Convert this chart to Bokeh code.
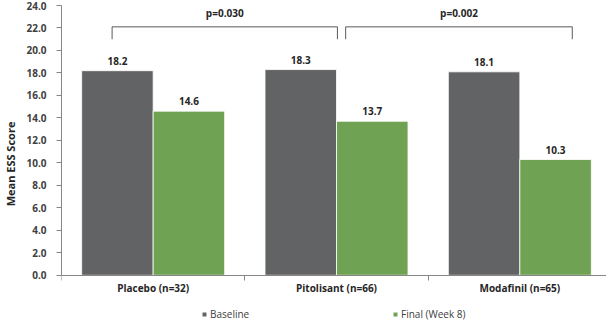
from bokeh.plotting import figure
from bokeh.models import (ColumnDataSource, Range1d, FixedTicker, Legend, LegendItem,
                          NumeralTickFormatter)
from bokeh.embed import file_html
from bokeh.resources import INLINE
from bokeh.core.properties import value

categories = ["Placebo (n=32)", "Pitolisant (n=66)", "Modafinil (n=65)"]
baseline = [18.2, 18.3, 18.1]
final = [14.6, 13.7, 10.3]
series_names = ["Baseline", "Final (Week 8)"]
pvalues = ["p=0.030", "p=0.002"]
y_ticks = [0, 2, 4, 6, 8, 10, 12, 14, 16, 18, 20, 22, 24]

GRAY = "#626365"
GREEN = "#70a254"
TXT = "#404040"
FONT = "Open Sans"
BW = 0.39

centers = [i + 0.5 for i in range(len(categories))]

# frame extends to the bottom of the window so the legend can sit inside it
p = figure(frame_width=550, frame_height=317, output_backend="svg", toolbar_location=None,
           x_range=Range1d(0, 3), y_range=Range1d(-4.2, 24),
           min_border_left=55, min_border_right=1, min_border_top=5, min_border_bottom=0)
p.outline_line_color = None
p.xgrid.visible = False
p.ygrid.visible = False

src = ColumnDataSource(dict(
    xb=[c - BW / 2 for c in centers], xf=[c + BW / 2 for c in centers],
    base=baseline, fin=final,
    bl=[f"{v:.1f}" for v in baseline], fl=[f"{v:.1f}" for v in final]))

rb = p.vbar(x="xb", top="base", width=BW, source=src, fill_color=GRAY, line_color="white", line_width=0.8)
rf = p.vbar(x="xf", top="fin", width=BW, source=src, fill_color=GREEN, line_color="white", line_width=0.8)

for col, lab, txt in (("xb", "base", "bl"), ("xf", "fin", "fl")):
    p.text(x=col, y=lab, text=txt, source=src,
           text_align="center", text_baseline="bottom", y_offset=-6,
           text_font=value(FONT), text_font_style="bold", text_font_size="10px", text_color="#262626")

# significance brackets
brackets = [(0.5 - 0.224, 1.5 + 0.005), (1.5 + 0.05, 2.5 + 0.286)]
y_top, y_bot = 22.1, 21.0
for (x0, x1), pv in zip(brackets, pvalues):
    p.line([x0, x0, x1, x1], [y_bot, y_top, y_top, y_bot], line_color="#595959", line_width=1)
    p.text(x=[(x0 + x1) / 2], y=[y_top], text=[pv], text_align="center", text_baseline="bottom",
           y_offset=-7, text_font=value(FONT), text_font_style="bold", text_font_size="10px",
           text_color="#262626")

# axes
p.yaxis.ticker = FixedTicker(ticks=y_ticks, minor_ticks=[])
p.yaxis.bounds = (0, 24)
p.yaxis.formatter = NumeralTickFormatter(format="0.0")
p.yaxis.axis_label = "Mean ESS Score"
p.yaxis.axis_label_text_font = FONT
p.yaxis.axis_label_text_font_style = "bold"
p.yaxis.axis_label_text_font_size = "11px"
p.yaxis.axis_label_text_color = "#262626"
p.yaxis.axis_label_standoff = 5
p.yaxis.major_label_text_font = FONT
p.yaxis.major_label_text_font_style = "bold"
p.yaxis.major_label_text_font_size = "10px"
p.yaxis.major_label_text_color = TXT
p.yaxis.major_label_standoff = 10
p.yaxis.major_tick_out = 5
p.yaxis.major_tick_in = 0
p.yaxis.axis_line_color = "#868686"
p.yaxis.major_tick_line_color = "#868686"

p.xaxis.fixed_location = 0
p.xaxis.ticker = FixedTicker(ticks=centers, minor_ticks=[0, 1, 2, 3])
p.xaxis.major_label_overrides = {c: n for c, n in zip(centers, categories)}
p.xaxis.major_label_text_font = FONT
p.xaxis.major_label_text_font_style = "bold"
p.xaxis.major_label_text_font_size = "10px"
p.xaxis.major_label_text_color = "#262626"
p.xaxis.major_tick_line_color = None
p.xaxis.major_tick_out = 0
p.xaxis.major_tick_in = 0
p.xaxis.major_label_standoff = 1
p.xaxis.minor_tick_out = 5
p.xaxis.minor_tick_in = 0
p.xaxis.minor_tick_line_color = "#868686"
p.xaxis.axis_line_color = "#868686"

legend = Legend(items=[LegendItem(label=series_names[0], renderers=[rb]),
                       LegendItem(label=series_names[1], renderers=[rf])],
                orientation="horizontal", location=(140, 1),
                glyph_width=6, glyph_height=6, label_standoff=3, spacing=0,
                label_width=182, padding=0, margin=0, label_height=12,
                label_text_font=FONT, label_text_font_size="10px", label_text_color=TXT,
                border_line_color=None, background_fill_alpha=0)
p.add_layout(legend)

open("out.html", "w").write(file_html(p, INLINE))
